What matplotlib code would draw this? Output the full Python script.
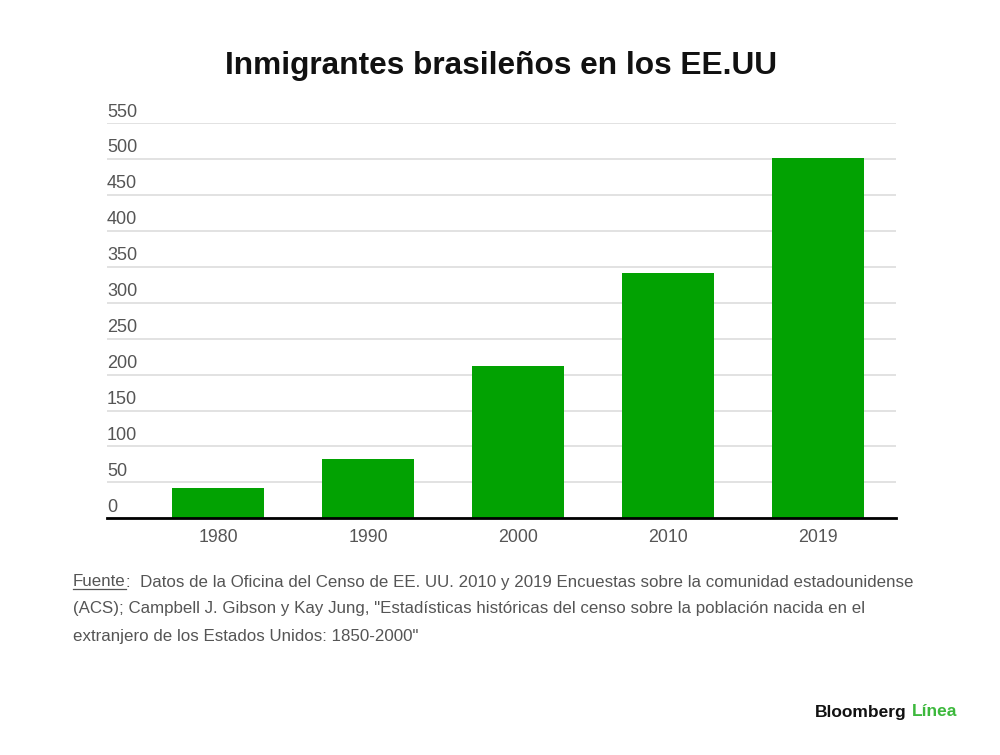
import matplotlib
matplotlib.use("Agg")
import matplotlib.pyplot as plt
from matplotlib import font_manager
from matplotlib.transforms import blended_transform_factory, offset_copy
from matplotlib.lines import Line2D

years = ["1980", "1990", "2000", "2010", "2019"]
values = [42, 82, 212, 341, 502]
yticks = [0, 50, 100, 150, 200, 250, 300, 350, 400, 450, 500, 550]
title = "Inmigrantes brasileños en los EE.UU"
source_label = "Fuente"
source_lines = [
    ":  Datos de la Oficina del Censo de EE. UU. 2010 y 2019 Encuestas sobre la comunidad estadounidense",
    "(ACS); Campbell J. Gibson y Kay Jung, \"Estadísticas históricas del censo sobre la población nacida en el",
    "extranjero de los Estados Unidos: 1850-2000\"",
]

base = "Liberation Sans"

GREEN = "#02a202"
GRAY = "#555555"

fig = plt.figure(figsize=(10, 7.55), dpi=100)
fig.patch.set_facecolor("white")
ax = fig.add_axes([0.107, 1 - 518.3 / 755, 0.896 - 0.107, (518.3 - 123.3) / 755])

x = list(range(len(years)))
ax.bar(x, values, width=0.613, color=GREEN, zorder=2)
ax.set_xlim(-0.74, 4.52)
ax.set_ylim(0, 550)

for s in ["top", "right", "left"]:
    ax.spines[s].set_visible(False)
ax.spines["bottom"].set_color("black")
ax.spines["bottom"].set_linewidth(2)
ax.spines["bottom"].set_zorder(3)

ax.set_yticks(yticks)
ax.yaxis.grid(True, color="#dadada", linewidth=1.1, zorder=1)
ax.set_axisbelow(True)
ax.tick_params(axis="y", length=0, labelleft=False)

trans = offset_copy(blended_transform_factory(ax.transAxes, ax.transData), fig=fig, x=0, y=2, units="points")
for v in yticks:
    ax.text(0, v, str(v), transform=trans, ha="left", va="bottom",
            fontsize=13, color=GRAY, family=base)

ax.set_xticks(x)
ax.set_xticklabels(years, fontsize=12.8, color=GRAY, family=base)
ax.tick_params(axis="x", length=0, pad=7.5)

fig.text(0.501, 1 - 66 / 755, title, ha="center", va="center", fontsize=22.8,
         fontweight="bold", family=base, color="#111111")

# Source note
fig.canvas.draw()
renderer = fig.canvas.get_renderer()
y_lines = [582, 609, 636]
FS = 12.2
t0 = fig.text(73 / 1000, 1 - y_lines[0] / 755, source_label, ha="left", va="center",
              fontsize=FS, family=base, color=GRAY)
bb = t0.get_window_extent(renderer)
x_end = bb.x1 / 1000
ul_y = (bb.y0 + 1) / 755
fig.add_artist(Line2D([bb.x0 / 1000, x_end], [ul_y, ul_y], transform=fig.transFigure,
                      color=GRAY, linewidth=0.9))
fig.text(x_end, 1 - y_lines[0] / 755, source_lines[0], ha="left", va="center",
         fontsize=FS, family=base, color=GRAY)
for ln, yy in zip(source_lines[1:], y_lines[1:]):
    fig.text(73 / 1000, 1 - yy / 755, ln, ha="left", va="center",
             fontsize=FS, family=base, color=GRAY)

# Logo
t2 = fig.text(957 / 1000, 1 - 712 / 755, "Línea", ha="right", va="center", fontsize=12.5,
              fontweight="bold", family=base, color="#3cb83c")
fig.canvas.draw()
bb2 = t2.get_window_extent(renderer)
fig.text((bb2.x0 - 5) / 1000, 1 - 712 / 755, "Bloomberg", ha="right", va="center",
         fontsize=12.5, fontweight="bold", family=base, color="#111111")

fig.savefig("out.png", dpi=100, facecolor="white")
